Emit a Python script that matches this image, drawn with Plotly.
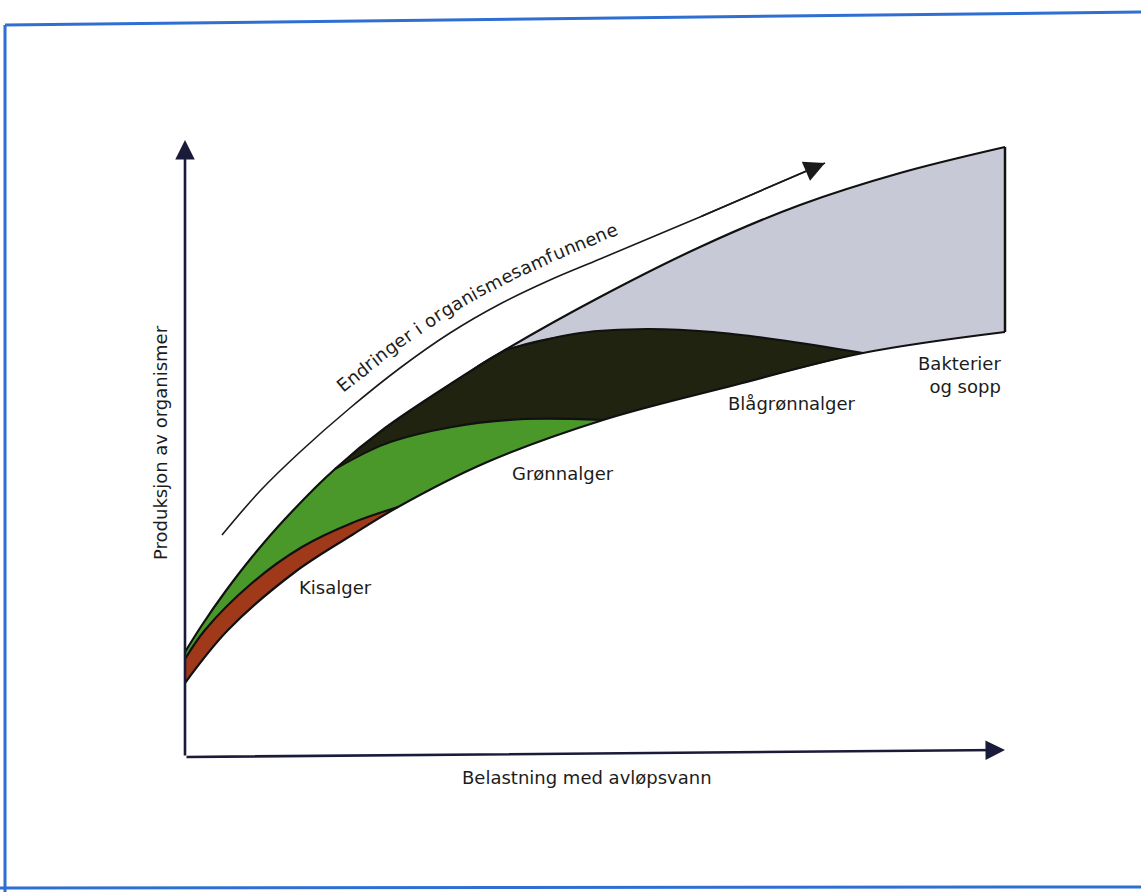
import numpy as np
import plotly.graph_objects as go

# ---- values (units: px from axis origin; x = load, y = production)
ENV_TOP_X = [0, 17, 40, 67, 100, 150, 200, 267, 320, 415, 515, 615, 715, 820]
ENV_TOP_Y = [105, 132, 165, 200, 238, 288, 329, 374, 407, 460, 510, 552, 584, 610]
ENV_BOT_X = [0, 43, 110, 167, 213, 300, 418, 550, 678, 820]
ENV_BOT_Y = [74, 127, 185, 222, 250, 294, 337, 372, 404, 425]
KIS_TOP_X = [0, 20, 67, 117, 167, 213]
KIS_TOP_Y = [98, 127, 174, 210, 234, 250]
GRO_TOP_X = [150, 200, 267, 340, 418]
GRO_TOP_Y = [288, 313, 330, 338, 337]
BLA_TOP_X = [320, 395, 462, 528, 595, 678]
BLA_TOP_Y = [407, 424, 428, 425, 417, 404]
TREND_X = [37, 75, 115, 165, 215, 265, 315, 365, 415, 515, 640]
TREND_Y = [222, 266, 305, 349, 389, 424, 453, 477, 498, 540, 594]
X_AXIS_END = (820, 7)
Y_AXIS_END = (0, 617)

GROUPS = ["Kisalger", "Grønnalger", "Blågrønnalger", "Bakterier<br>og sopp"]
COLORS = ["#a0391a", "#4a982a", "#1f230f", "#c8c9d6"]
LABEL_POS = [(150, 170), (378, 284), (607, 354), (818, 382)]
TREND_TEXT = "Endringer i organismesamfunnene"
X_TITLE = "Belastning med avløpsvann"
Y_TITLE = "Produksjon av organismer"

FONT = "DejaVu Sans"
INK = "#1c1c1c"


def seg(xs, ys, x0, x1):
    pts = [(x, y) for x, y in zip(xs, ys) if x0 <= x <= x1]
    return [p[0] for p in pts], [p[1] for p in pts]


def join(a, b):
    return a[0] + b[0][1:], a[1] + b[1][1:]


U = (ENV_TOP_X, ENV_TOP_Y)
L = (ENV_BOT_X, ENV_BOT_Y)
K = (KIS_TOP_X, KIS_TOP_Y)
G = (GRO_TOP_X, GRO_TOP_Y)
D = (BLA_TOP_X, BLA_TOP_Y)

# painted back to front: each band is filled down to the lower envelope,
# the next band covers the hidden part
layers = [
    (seg(*L, 300, 820), seg(*U, 320, 820), COLORS[3]),
    (seg(*L, 110, 678), join(seg(*U, 150, 320), D), COLORS[2]),
    (seg(*L, 0, 418), join(seg(*U, 0, 150), G), COLORS[1]),
    (seg(*L, 0, 213), K, COLORS[0]),
]

fig = go.Figure()
for bot, top, col in layers:
    fig.add_trace(go.Scatter(x=bot[0], y=bot[1], mode="lines",
                             line=dict(width=0, shape="spline", color=col),
                             hoverinfo="skip"))
    fig.add_trace(go.Scatter(x=top[0], y=top[1], mode="lines", fill="tonexty",
                             fillcolor=col, line=dict(width=0, shape="spline", color=col),
                             hoverinfo="skip"))

for cx, cy in [U, L, K, G, D]:
    fig.add_trace(go.Scatter(x=cx, y=cy, mode="lines",
                             line=dict(color="#111111", width=2.2, shape="spline"),
                             hoverinfo="skip"))
# right edge of the bacteria band
fig.add_trace(go.Scatter(x=[ENV_TOP_X[-1], ENV_BOT_X[-1]], y=[ENV_TOP_Y[-1], ENV_BOT_Y[-1]],
                         mode="lines", line=dict(color="#111111", width=2.5), hoverinfo="skip"))

# trend arrow
fig.add_trace(go.Scatter(x=TREND_X, y=TREND_Y, mode="lines",
                         line=dict(color="#1a1a1a", width=1.6, shape="spline"), hoverinfo="skip"))

annotations = []
annotations.append(dict(x=TREND_X[-1], y=TREND_Y[-1], ax=TREND_X[-2], ay=TREND_Y[-2],
                        xref="x", yref="y", axref="x", ayref="y", text="", showarrow=True,
                        arrowhead=2, arrowsize=2.6, arrowwidth=1.6, arrowcolor="#1a1a1a",
                        standoff=0))
# axes
annotations.append(dict(x=X_AXIS_END[0], y=X_AXIS_END[1], ax=0, ay=0, xref="x", yref="y",
                        axref="x", ayref="y", text="", showarrow=True, arrowhead=2,
                        arrowsize=1.5, arrowwidth=2.6, arrowcolor="#1a1a3a", standoff=0))
annotations.append(dict(x=Y_AXIS_END[0], y=Y_AXIS_END[1], ax=0, ay=0, xref="x", yref="y",
                        axref="x", ayref="y", text="", showarrow=True, arrowhead=2,
                        arrowsize=1.5, arrowwidth=2.6, arrowcolor="#1a1a3a", standoff=0))

# group labels
for name, (lx, ly) in zip(GROUPS, LABEL_POS):
    right = "<br>" in name
    annotations.append(dict(x=lx, y=ly, xref="x", yref="y", text=name, showarrow=False,
                            xanchor="right" if right else "center", align="right" if right else "center",
                            font=dict(family=FONT, size=18, color=INK)))

annotations.append(dict(x=402, y=-20, xref="x", yref="y", text=X_TITLE, showarrow=False,
                        font=dict(family=FONT, size=18, color=INK)))
annotations.append(dict(x=-25, y=314, xref="x", yref="y", text=Y_TITLE, showarrow=False,
                        textangle=-90, font=dict(family=FONT, size=18, color=INK)))

# ---- curved text along the trend arrow (layout helper only)
W = {"E": .632, "n": .634, "d": .635, "r": .411, "i": .278, "g": .635, "e": .615, " ": .318,
     "o": .612, "a": .613, "s": .521, "m": .974, "f": .352, "u": .634}


def catmull(xs, ys, n=30):
    P = np.column_stack([xs, ys]).astype(float)
    P = np.vstack([2 * P[0] - P[1], P, 2 * P[-1] - P[-2]])
    out = []
    for i in range(1, len(P) - 2):
        p0, p1, p2, p3 = P[i - 1], P[i], P[i + 1], P[i + 2]
        for t in np.linspace(0, 1, n, endpoint=False):
            out.append(0.5 * ((2 * p1) + (-p0 + p2) * t + (2 * p0 - 5 * p1 + 4 * p2 - p3) * t ** 2
                              + (-p0 + 3 * p1 - 3 * p2 + p3) * t ** 3))
    out.append(P[-2])
    return np.array(out)


path = catmull(TREND_X, TREND_Y)
dseg = np.hypot(np.diff(path[:, 0]), np.diff(path[:, 1]))
s = np.concatenate([[0], np.cumsum(dseg)])
s_start = np.interp(168, path[:, 0], s)
s_end = np.interp(440, path[:, 0], s)
adv = np.array([W[c] for c in TREND_TEXT])
cum = np.concatenate([[0], np.cumsum(adv)])
scale = (s_end - s_start) / cum[-1]
OFFSET = 22
for i, ch in enumerate(TREND_TEXT):
    if ch == " ":
        continue
    sm = s_start + (cum[i] + adv[i] / 2) * scale
    px = np.interp(sm, s, path[:, 0])
    py = np.interp(sm, s, path[:, 1])
    k = np.searchsorted(s, sm)
    k = min(max(k, 1), len(s) - 1)
    dx, dy = path[k, 0] - path[k - 1, 0], path[k, 1] - path[k - 1, 1]
    nrm = np.hypot(dx, dy)
    dx, dy = dx / nrm, dy / nrm
    annotations.append(dict(x=px - dy * OFFSET, y=py + dx * OFFSET, xref="x", yref="y", text=ch,
                            showarrow=False, textangle=-np.degrees(np.arctan2(dy, dx)),
                            font=dict(family=FONT, size=18, color=INK)))

# scanned page frame (blue border)
shapes = [
    dict(type="line", xref="paper", yref="paper", x0=5 / 1141, y0=1 - 25 / 892, x1=1, y1=1 - 12 / 892,
         line=dict(color="#2f6fd2", width=3)),
    dict(type="line", xref="paper", yref="paper", x0=5 / 1141, y0=1 - 25 / 892, x1=5 / 1141, y1=0,
         line=dict(color="#2f6fd2", width=3)),
    dict(type="line", xref="paper", yref="paper", x0=0, y0=1 - 888 / 892, x1=1, y1=1 - 887 / 892,
         line=dict(color="#2f6fd2", width=3)),
]

fig.update_layout(width=1141, height=892, margin=dict(l=0, r=0, t=0, b=0),
                  paper_bgcolor="white", plot_bgcolor="white", showlegend=False,
                  xaxis=dict(visible=False, range=[-185, 956], fixedrange=True),
                  yaxis=dict(visible=False, range=[-135, 757], fixedrange=True),
                  annotations=annotations, shapes=shapes)

fig.write_html("out.html", config={"displayModeBar": False},
               post_script="document.body.style.margin='0px';")
